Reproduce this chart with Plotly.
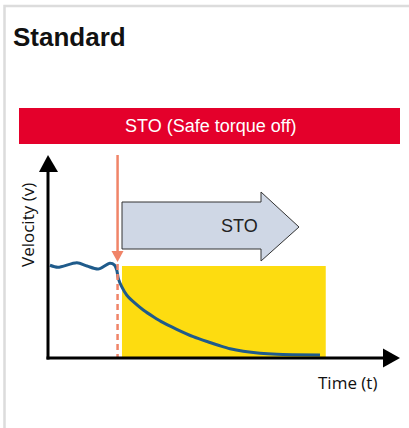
import plotly.graph_objects as go

# ---- data (time in arbitrary units, velocity normalised) ----
time = [0.07, 0.36, 1.05, 1.42, 1.82, 2.25, 2.42, 2.50, 2.556, 2.68, 2.86, 3.10,
        3.465, 3.83, 4.19, 4.68, 5.28, 5.89, 6.25, 6.62, 7.10, 7.71, 8.32, 8.92, 9.89]
velocity = [1.008, 0.986, 1.036, 1.0, 0.967, 1.03, 1.01, 0.957, 0.866, 0.775, 0.685,
            0.612, 0.522, 0.449, 0.384, 0.312, 0.232, 0.168, 0.133, 0.101, 0.073,
            0.051, 0.040, 0.036, 0.033]
sto_trigger = 2.53          # time when STO is triggered
sto_zone = [2.69, 10.1]     # torque-off window (time)
labels = {"title": "Standard", "banner": "STO (Safe torque off)", "arrow": "STO",
          "x": "Time (t)", "y": "Velocity (v)"}

W, H = 409, 428
PX, PY, X0, Y0 = 27.5, 92.0, 48.0, 358.0   # axis scale / origin in pixels


def tx(px):   # pixel -> time
    return (px - X0) / PX


def vy(py):   # pixel -> velocity
    return (Y0 - py) / PY


def pp(px, py):  # pixel -> paper
    return px / W, 1 - py / H


fig = go.Figure()
fig.add_trace(go.Scatter(x=time, y=velocity, mode="lines",
                         line=dict(color="#1f5b8b", width=3, shape="spline", smoothing=0.8),
                         hoverinfo="skip", showlegend=False))

shapes = []
# card border (top + left)
bx0, by0 = pp(4.5, 440)
bx1, by1 = pp(4.5, 6)
bx2, _ = pp(430, 6)
shapes.append(dict(type="path", xref="paper", yref="paper",
                   path=f"M {bx0} {by0} L {bx1} {by1} L {bx2} {by1}",
                   line=dict(color="#dcdcdc", width=2.5)))
# red banner
a, b = pp(19, 108)
c, d = pp(400, 144)
shapes.append(dict(type="rect", xref="paper", yref="paper", x0=a, y0=b, x1=c, y1=d,
                   fillcolor="#e4002b", line=dict(width=0), layer="below"))
# yellow STO zone
shapes.append(dict(type="rect", xref="x", yref="y", x0=sto_zone[0], x1=sto_zone[1],
                   y0=0, y1=vy(266), fillcolor="#fddc10", line=dict(width=0), layer="below"))
# gray block arrow
pts = [(122, 202), (261, 202), (261, 192), (299, 227), (261, 261), (261, 249), (122, 249)]
path = "M " + " L ".join(f"{tx(x)} {vy(y)}" for x, y in pts) + " Z"
shapes.append(dict(type="path", xref="x", yref="y", path=path,
                   fillcolor="#cfd7e5", line=dict(color="#333333", width=1), layer="below"))
# orange trigger line
oc = "#f08468"
shapes.append(dict(type="line", xref="x", yref="y", x0=sto_trigger, x1=sto_trigger,
                   y0=vy(155), y1=vy(253), line=dict(color=oc, width=2.5)))
shapes.append(dict(type="path", xref="x", yref="y",
                   path=f"M {tx(111.5)} {vy(251)} L {tx(123.5)} {vy(251)} L {sto_trigger} {vy(262)} Z",
                   fillcolor=oc, line=dict(width=0)))
shapes.append(dict(type="line", xref="x", yref="y", x0=sto_trigger, x1=sto_trigger,
                   y0=vy(264), y1=0, line=dict(color=oc, width=2.5, dash="6px,4px")))
# axes
shapes.append(dict(type="line", xref="x", yref="y", x0=0, x1=0, y0=vy(359.5), y1=vy(170),
                   line=dict(color="black", width=3)))
shapes.append(dict(type="path", xref="x", yref="y",
                   path=f"M {tx(39)} {vy(172)} L {tx(58)} {vy(172)} L 0 {vy(155)} Z",
                   fillcolor="black", line=dict(width=0)))
shapes.append(dict(type="line", xref="x", yref="y", x0=tx(46.5), x1=tx(385), y0=0, y1=0,
                   line=dict(color="black", width=3)))
shapes.append(dict(type="path", xref="x", yref="y",
                   path=f"M {tx(383)} {vy(348.5)} L {tx(383)} {vy(367.5)} L {tx(400)} 0 Z",
                   fillcolor="black", line=dict(width=0)))

ann = []
helv = "Liberation Sans, Arial, Helvetica, sans-serif"
x, y = pp(11, 37)
ann.append(dict(text=f"<b>{labels['title']}</b>", x=x, y=y, xref="paper", yref="paper",
                xanchor="left", yanchor="middle", showarrow=False,
                font=dict(family=helv, size=26, color="#111111")))
x, y = pp(210, 126)
ann.append(dict(text=labels["banner"], x=x, y=y, xref="paper", yref="paper",
                xanchor="center", yanchor="middle",
                showarrow=False, font=dict(family=helv, size=18, color="white")))
ann.append(dict(text=labels["arrow"], x=tx(239), y=vy(226), xref="x", yref="y",
                xanchor="center", yanchor="middle",
                showarrow=False, font=dict(family=helv, size=18, color="#222222")))
ann.append(dict(text=labels["y"], x=tx(27), y=vy(225), xref="x", yref="y", textangle=-90,
                xanchor="center", yanchor="middle",
                showarrow=False, font=dict(family="Open Sans", size=17, color="#111111")))
ann.append(dict(text=labels["x"], x=tx(347), y=vy(382), xref="x", yref="y",
                xanchor="center", yanchor="middle",
                showarrow=False, font=dict(family="Open Sans", size=17, color="#111111")))

fig.update_layout(width=W, height=H, margin=dict(l=0, r=0, t=0, b=0),
                  paper_bgcolor="white", plot_bgcolor="white",
                  xaxis=dict(range=[tx(0), tx(W)], visible=False, fixedrange=True),
                  yaxis=dict(range=[vy(H), vy(0)], visible=False, fixedrange=True),
                  shapes=shapes, annotations=ann, showlegend=False)
fig.write_html("out.html", config={"displayModeBar": False},
               post_script="document.body.style.margin='0';document.body.style.overflow='hidden';")
